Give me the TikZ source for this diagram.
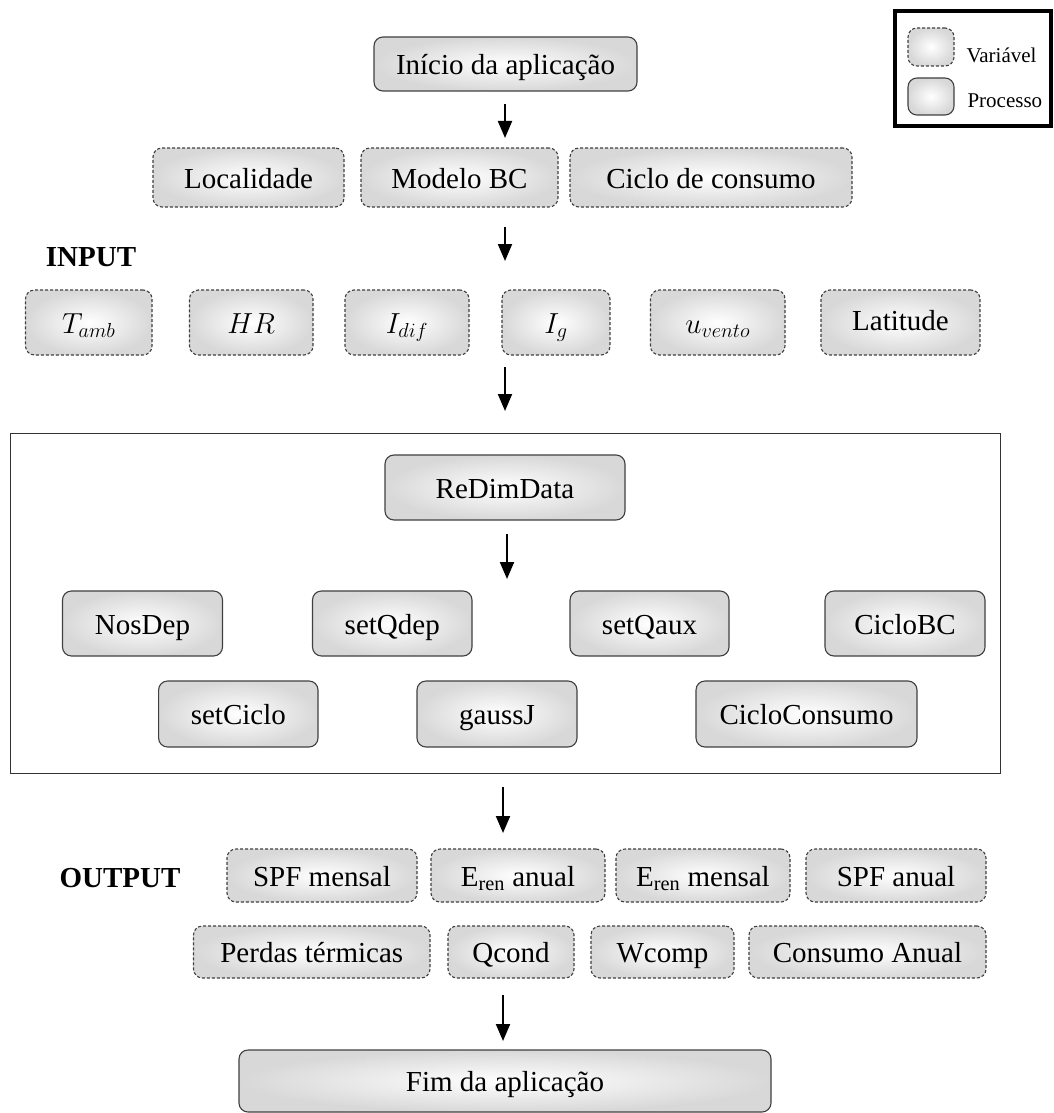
\RequirePackage{fix-cm}
\documentclass[tikz,border=0pt]{standalone}
\usepackage{fontspec}
\setmainfont{Liberation Serif}
\usetikzlibrary{arrows.meta}
\definecolor{boxedge}{HTML}{404040}
\definecolor{boxgray}{HTML}{D8D8D8}
\tikzset{
  base/.style={rounded corners=9pt, draw=boxedge, line width=1.1pt,
    shading=radial, inner color=white, outer color=boxgray,
    font=\fontsize{29}{34}\selectfont, inner sep=0pt, align=center,
    text height=24pt, text depth=3pt},
  proc/.style={base},
  var/.style={base, dash pattern=on 3pt off 2pt},
  arr/.style={line width=2pt, -{Triangle[length=17pt,width=14pt]}},
  lbl/.style={font=\fontsize{29}{34}\selectfont\bfseries},
  leg/.style={font=\fontsize{21}{25}\selectfont}
}
\newcommand{\bx}[7]{% style, name, cx, cy, w, h, text
  \node[#1, minimum width=#5pt, minimum height=#6pt] (#2) at (#3,#4) {#7};}
\begin{document}
\begin{tikzpicture}[x=1pt,y=-1pt]
\useasboundingbox[fill=white] (0,0) rectangle (1054,1113);

% legend
\node[draw=black, line width=3.5pt, minimum width=156pt, minimum height=115pt, inner sep=0pt] (legend) at (973,68.5) {};
\bx{var}{legvar}{931}{47}{46}{38}{}
\bx{proc}{legproc}{931}{96.5}{46}{37}{}
\node[leg, anchor=west] (legvart) at (963,55) {Variável};
\node[leg, anchor=west] (legproct) at (964,101) {Processo};

% start
\bx{proc}{inicio}{505.5}{64}{263}{54}{Início da aplicação}

% row 2
\bx{var}{local}{248.5}{177.5}{191}{59}{Localidade}
\bx{var}{modelo}{459.5}{177.5}{197}{59}{Modelo BC}
\bx{var}{ciclo}{711}{177.5}{282}{59}{Ciclo de consumo}

\node[lbl] (input) at (91,257) {INPUT};

% row 3
\bx{var}{tamb}{88.75}{322.5}{126.5}{65}{$T_{amb}$}
\bx{var}{hr}{251.25}{322.5}{123.5}{65}{$HR$}
\bx{var}{idif}{407}{322.5}{124}{65}{$I_{dif}$}
\bx{var}{ig}{556}{322.5}{108}{65}{$I_g$}
\bx{var}{uvento}{717.75}{322.5}{134.5}{65}{$u_{vento}$}
\bx{var}{lat}{900.5}{322.5}{159}{65}{\raisebox{3pt}{Latitude}}

% container
\node[draw=black!80, line width=1pt, minimum width=990pt, minimum height=340pt, inner sep=0pt] (core) at (505,603) {};

\bx{proc}{redim}{505}{487.5}{240}{65}{ReDimData}
\bx{proc}{nosdep}{142.5}{623.5}{160}{65}{NosDep}
\bx{proc}{setqdep}{392.25}{623.5}{159.5}{65}{setQdep}
\bx{proc}{setqaux}{649.5}{623.5}{159}{65}{setQaux}
\bx{proc}{ciclobc}{905}{623.5}{160}{65}{CicloBC}
\bx{proc}{setciclo}{238.3}{714}{159.4}{66}{setCiclo}
\bx{proc}{gaussj}{497}{714}{160}{66}{gaussJ}
\bx{proc}{cicloconsumo}{806.5}{714}{221}{66}{CicloConsumo}

\node[lbl] (output) at (120,878) {OUTPUT};

% output rows
\bx{var}{spfm}{322}{875.5}{190}{53}{SPF mensal}
\bx{var}{erena}{518}{875.5}{174}{53}{E\textsubscript{ren} anual}
\bx{var}{erenm}{703}{875.5}{174}{53}{E\textsubscript{ren} mensal}
\bx{var}{spfa}{896}{875.5}{180}{53}{SPF anual}
\bx{var}{perdas}{311.75}{952}{236.5}{52}{Perdas térmicas}
\bx{var}{qcond}{511}{952}{126}{52}{Qcond}
\bx{var}{wcomp}{662.5}{952}{143}{52}{Wcomp}
\bx{var}{consumo}{867.5}{952}{237}{52}{Consumo Anual}

\bx{proc}{fim}{505}{1081}{532}{62}{Fim da aplicação}

% arrows
\coordinate (a1s) at (505,104); \coordinate (a1e) at (505,138);
\coordinate (a2s) at (505,227); \coordinate (a2e) at (505,261);
\coordinate (a3s) at (505,367); \coordinate (a3e) at (505,411);
\coordinate (a4s) at (507,534); \coordinate (a4e) at (507,579);
\coordinate (a5s) at (503,787); \coordinate (a5e) at (503,833);
\coordinate (a6s) at (503,995); \coordinate (a6e) at (503,1041);
\draw[arr] (a1s) -- (a1e);
\draw[arr] (a2s) -- (a2e);
\draw[arr] (a3s) -- (a3e);
\draw[arr] (a4s) -- (a4e);
\draw[arr] (a5s) -- (a5e);
\draw[arr] (a6s) -- (a6e);
\end{tikzpicture}
\end{document}
